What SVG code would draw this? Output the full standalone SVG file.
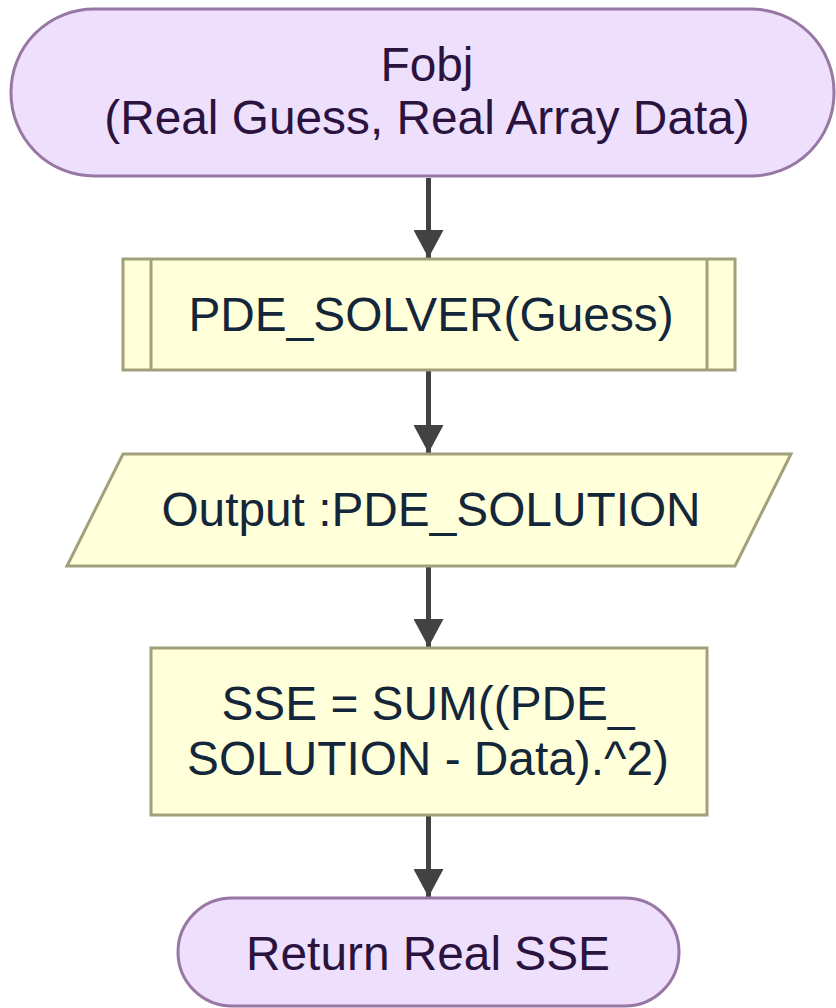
<svg xmlns="http://www.w3.org/2000/svg" width="836" height="1008" viewBox="0 0 836 1008">
  <defs>
    <marker id="arrowhead" viewBox="0 0 28 30" refX="28" refY="15" markerWidth="28" markerHeight="30" markerUnits="userSpaceOnUse" orient="auto">
      <path d="M0,0 L28,15 L0,30 Z" fill="#424242"/>
    </marker>
    <style>
      .terminal { fill: #eedffc; stroke: #9777a3; stroke-width: 3; }
      .process { fill: #ffffd9; stroke: #a0a07b; stroke-width: 3; }
      .label { font-family: "Liberation Sans", Arial, sans-serif; font-size: 47.8px; text-anchor: middle; }
      .term-text { fill: #2b1340; }
      .proc-text { fill: #13263a; }
      .edge { stroke: #424242; stroke-width: 5; fill: none; marker-end: url(#arrowhead); }
    </style>
  </defs>

  <g id="connectors">
    <line class="edge" x1="428.5" y1="178" x2="428.5" y2="258"/>
    <line class="edge" x1="428.5" y1="371" x2="428.5" y2="453"/>
    <line class="edge" x1="428.5" y1="567" x2="428.5" y2="647"/>
    <line class="edge" x1="428.5" y1="816" x2="428.5" y2="897"/>
  </g>

  <g id="start">
    <rect class="terminal" x="11" y="9" width="823" height="167" rx="83" ry="83"/>
    <text class="label term-text" x="427" y="81">Fobj</text>
    <text class="label term-text" x="427" y="134">(Real Guess, Real Array Data)</text>
  </g>

  <g id="solver">
    <rect class="process" x="123" y="259" width="612" height="111"/>
    <line class="process" x1="151" y1="259" x2="151" y2="370"/>
    <line class="process" x1="707" y1="259" x2="707" y2="370"/>
    <text class="label proc-text" x="431" y="331">PDE_SOLVER(Guess)</text>
  </g>

  <g id="output">
    <polygon class="process" points="123,454 791,454 735,566 67,566"/>
    <text class="label proc-text" x="431" y="526">Output :PDE_SOLUTION</text>
  </g>

  <g id="sse">
    <rect class="process" x="151" y="648" width="556" height="167"/>
    <text class="label proc-text" x="428" y="720">SSE = SUM((PDE_</text>
    <text class="label proc-text" x="428" y="775">SOLUTION - Data).^2)</text>
  </g>

  <g id="end">
    <rect class="terminal" x="178" y="898" width="501" height="108" rx="54" ry="54"/>
    <text class="label term-text" x="428" y="970">Return Real SSE</text>
  </g>
</svg>
